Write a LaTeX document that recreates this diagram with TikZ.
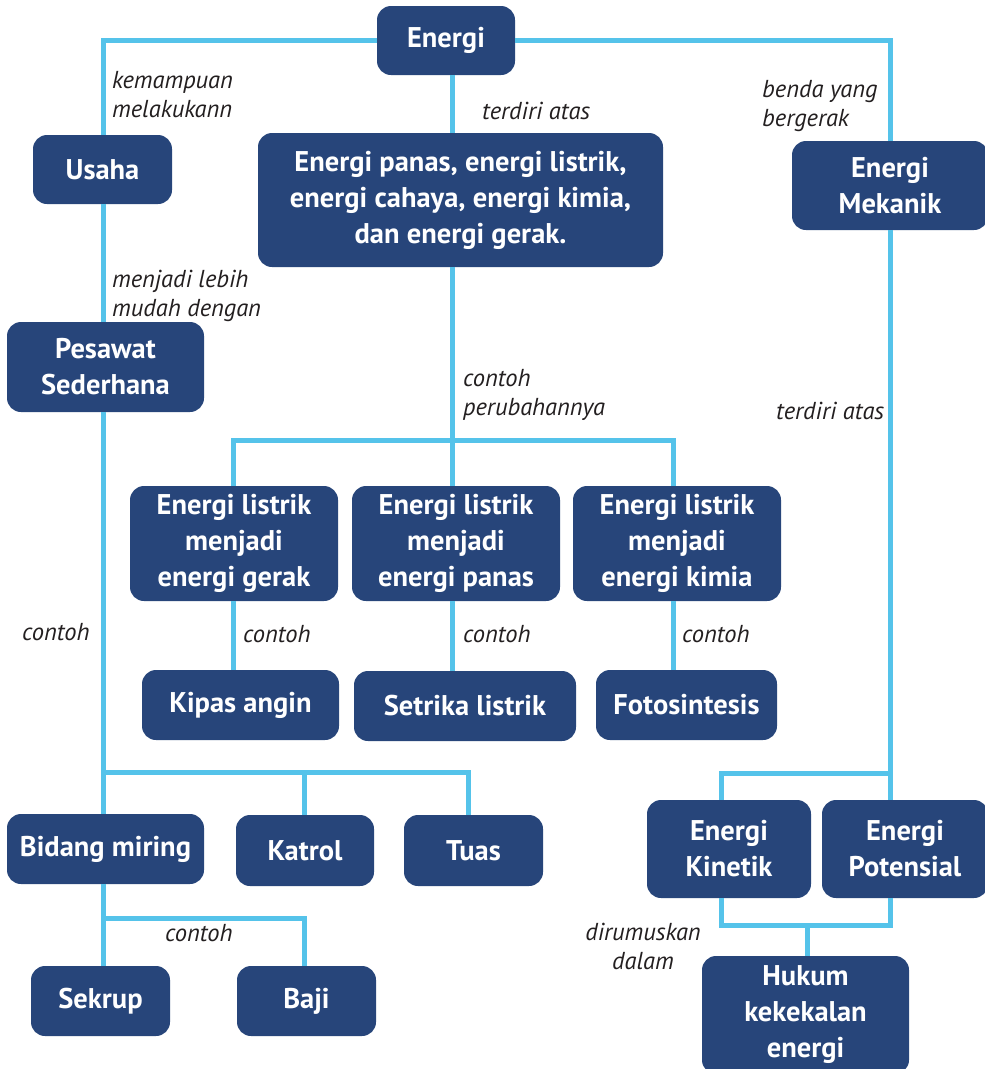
\documentclass[tikz,border=0pt]{standalone}
\usepackage{fontspec}
\setmainfont{PT Sans}
\begin{document}
\begin{tikzpicture}[x=1pt,y=-1pt,
  box/.style={rectangle,rounded corners=14pt,fill=boxblue,text=white,
    font=\bfseries\fontsize{28.5}{36}\selectfont,align=center,inner sep=0pt},
  lbl/.style={font=\itshape\fontsize{24.5}{29}\selectfont,text=lbltext,inner sep=0pt,align=left,anchor=west},
  conn/.style={draw=cyanline,line width=5pt}]
\definecolor{boxblue}{RGB}{39,69,122}
\definecolor{cyanline}{RGB}{85,195,234}
\definecolor{lbltext}{RGB}{35,31,32}
\useasboundingbox (0,0) rectangle (985,1069);
\clip (0,0) rectangle (985,1069);
% column coordinates
\coordinate (cL) at (103,0);
\coordinate (cS) at (452,0);
\coordinate (cM1) at (233,0);
\coordinate (cM3) at (673,0);
\coordinate (cK) at (304,0);
\coordinate (cT) at (468,0);
\coordinate (cR) at (890,0);
\coordinate (cKin) at (721,0);
\coordinate (cH) at (807,0);
% nodes
\node[box,minimum width=138pt,minimum height=69pt] (energi) at (446,40.5) {Energi};
\node[box,minimum width=139pt,minimum height=69pt] (usaha) at (102.5,169.5) {Usaha};
\node[box,minimum width=405pt,minimum height=134pt] (big) at (460.5,200) {Energi panas, energi listrik,\\energi cahaya, energi kimia,\\dan energi gerak.};
\node[box,minimum width=196pt,minimum height=89pt] (mekanik) at (890,185.5) {Energi\\Mekanik};
\node[box,minimum width=197pt,minimum height=90pt] (pesawat) at (105.5,367) {Pesawat\\Sederhana};
\node[box,minimum width=208pt,minimum height=115pt] (m1) at (234,543.5) {Energi listrik\\menjadi\\energi gerak};
\node[box,minimum width=208pt,minimum height=115pt] (m2) at (456,543.5) {Energi listrik\\menjadi\\energi panas};
\node[box,minimum width=208pt,minimum height=115pt] (m3) at (677,543.5) {Energi listrik\\menjadi\\energi kimia};
\node[box,minimum width=197pt,minimum height=70pt] (kipas) at (240.5,705) {Kipas angin};
\node[box,minimum width=222pt,minimum height=70pt] (setrika) at (465,706) {Setrika listrik};
\node[box,minimum width=181pt,minimum height=70pt] (foto) at (686.5,705) {Fotosintesis};
\node[box,minimum width=197pt,minimum height=70pt] (bidang) at (105.5,849) {Bidang miring};
\node[box,minimum width=138pt,minimum height=71pt] (katrol) at (305,850.5) {Katrol};
\node[box,minimum width=139pt,minimum height=71pt] (tuas) at (473.5,850.5) {Tuas};
\node[box,minimum width=139pt,minimum height=70pt] (sekrup) at (100.5,1001) {Sekrup};
\node[box,minimum width=139pt,minimum height=70pt] (baji) at (306.5,1001) {Baji};
\node[box,minimum width=164pt,minimum height=98pt] (kinetik) at (729,849) {Energi\\Kinetik};
\node[box,minimum width=166pt,minimum height=98pt] (potensial) at (905,849) {Energi\\Potensial};
\node[box,minimum width=207pt,minimum height=118pt] (hukum) at (805.5,1015) {Hukum\\kekekalan\\energi};
% junctions
\coordinate (j1) at (452,440);
\coordinate (j2) at (103,772);
\coordinate (j3) at (103,918);
\coordinate (j4) at (890,773);
\coordinate (j5) at (807,925);
% connectors
\path[conn] (energi.west) -| (usaha.north -| cL);
\path[conn] (energi.east) -| (mekanik.north -| cR);
\path[conn] (energi.south -| cS) -- (big.north -| cS);
\path[conn] (big.south -| cS) -- (m2.north -| cS);
\path[conn] (m1.north -| cM1) |- (j1) -| (m3.north -| cM3);
\path[conn] (m1.south -| cM1) -- (kipas.north -| cM1);
\path[conn] (m2.south -| cS) -- (setrika.north -| cS);
\path[conn] (m3.south -| cM3) -- (foto.north -| cM3);
\path[conn] (usaha.south -| cL) -- (pesawat.north -| cL);
\path[conn] (pesawat.south -| cL) -- (bidang.north -| cL);
\path[conn] (j2) -| (tuas.north -| cT);
\path[conn] (j2 -| cK) -- (katrol.north -| cK);
\path[conn] (bidang.south -| cL) -- (sekrup.north -| cL);
\path[conn] (j3) -| (baji.north -| cK);
\path[conn] (mekanik.south -| cR) -- (potensial.north -| cR);
\path[conn] (j4) -| (kinetik.north -| cKin);
\path[conn] (kinetik.south -| cKin) |- (j5) -| (potensial.south -| cR);
\path[conn] (j5) -- (hukum.north -| cH);
% labels
\node[lbl] (l1) at (112,95) {kemampuan\\melakukann};
\node[lbl] (l2) at (112,295.5) {menjadi lebih\\mudah dengan};
\node[lbl] (l3) at (482,111) {terdiri atas};
\node[lbl] (l4) at (762,106.5) {benda yang\\bergerak};
\node[lbl] (l5) at (463,394.5) {contoh\\perubahannya};
\node[lbl] (l6) at (776,411) {terdiri atas};
\node[lbl] (l7) at (22,632) {contoh};
\node[lbl] (l8) at (243,634) {contoh};
\node[lbl] (l9) at (463,634) {contoh};
\node[lbl] (l10) at (682,634) {contoh};
\node[lbl] (l11) at (165,933) {contoh};
\node[lbl,align=center,anchor=center] (l12) at (643,946) {dirumuskan\\dalam};
\end{tikzpicture}
\end{document}
